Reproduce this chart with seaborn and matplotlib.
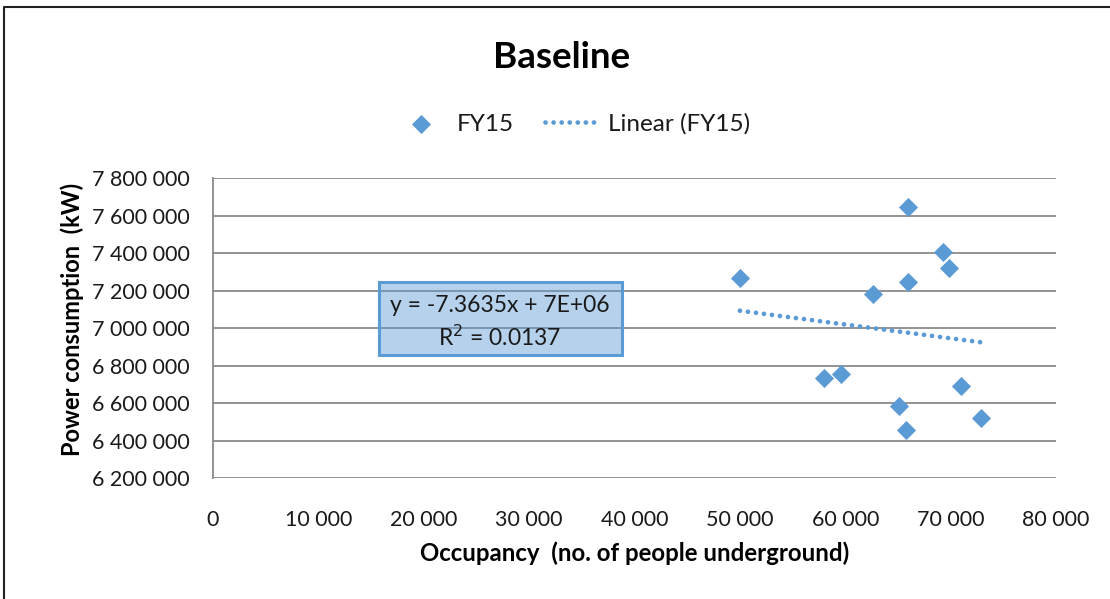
import numpy as np
import pandas as pd
import matplotlib
matplotlib.use("Agg")
import matplotlib.pyplot as plt
import seaborn as sns
from matplotlib.ticker import FuncFormatter, MultipleLocator
from matplotlib.patches import Rectangle
from matplotlib.lines import Line2D

# FY15 monthly observations
occupancy = [50000, 66000, 69300, 69800, 66000, 62600, 58000, 59600, 71000, 65100, 65800, 72900]
power_kw = [7268000, 7644000, 7407000, 7322000, 7247000, 7183000, 6733000, 6755000, 6691000, 6584000, 6456000, 6520000]

# Reported linear trend
slope = -7.3635
r_squared = 0.0137
series_name = "FY15"
trend_name = "Linear (FY15)"
title = "Baseline"
x_label = "Occupancy  (no. of people underground)"
y_label = "Power consumption  (kW)"

df = pd.DataFrame({"occupancy": occupancy, "power": power_kw})
# least-squares line with the given slope passes through the means
intercept = df["power"].mean() - slope * df["occupancy"].mean()
x_fit = np.array([df["occupancy"].min(), df["occupancy"].max()])
trend = pd.DataFrame({"occupancy": x_fit, "power": intercept + slope * x_fit})

sns.set_theme(style="white")
plt.rcParams["font.family"] = ["Lato", "DejaVu Sans"]

blue = "#5b9bd5"
W, H = 1110, 599
fig = plt.figure(figsize=(W / 100, H / 100), dpi=100)
ax = fig.add_axes([213 / W, 1 - 478 / H, (1056 - 213) / W, (478 - 178) / H])

sns.scatterplot(data=df, x="occupancy", y="power", marker="D", s=95, color=blue,
                edgecolor=blue, linewidth=0, ax=ax, label=series_name, zorder=4)
sns.lineplot(data=trend, x="occupancy", y="power", color=blue, lw=3.4,
             linestyle=(0, (0.01, 1.7)), dash_capstyle="round", ax=ax,
             label=trend_name, zorder=3)

ax.set_xlim(0, 80000)
ax.set_ylim(6200000, 7800000)
ax.xaxis.set_major_locator(MultipleLocator(10000))
ax.yaxis.set_major_locator(MultipleLocator(200000))
fmt = FuncFormatter(lambda v, p: f"{v:,.0f}".replace(",", " "))
ax.xaxis.set_major_formatter(fmt)
ax.yaxis.set_major_formatter(fmt)
ax.tick_params(axis="both", length=0, labelsize=15.5, colors="#1a1a1a")
ax.tick_params(axis="y", pad=17)
ax.tick_params(axis="x", pad=23)
ax.grid(axis="y", color="#8a8a8a", lw=1.3)
ax.set_axisbelow(True)
for s in ["top", "right", "bottom"]:
    ax.spines[s].set_visible(False)
ax.spines["left"].set_color("#8a8a8a")
ax.spines["left"].set_linewidth(1.3)
ax.set_xlabel("")
ax.set_ylabel("")

handles, labels = ax.get_legend_handles_labels()
ax.legend_.remove()
fig.legend(handles, labels, loc="center", bbox_to_anchor=(572 / W, 1 - 124 / H),
           ncol=2, frameon=False, fontsize=17.5, handlelength=2.3,
           columnspacing=1.3, handletextpad=0.3, markerscale=1.0,
           labelcolor="#1a1a1a")

fig.text(562 / W, 1 - 57 / H, title, ha="center", va="center",
         fontsize=26.5, fontweight="bold", color="black")
fig.text(635 / W, 1 - 553 / H, x_label, ha="center", va="center",
         fontsize=17.3, fontweight="bold", color="black")
fig.text(72 / W, 1 - 319 / H, y_label, ha="center", va="center", rotation=90,
         fontsize=17, fontweight="bold", color="black")

# trendline equation label
fig.patches.append(Rectangle((379 / W, 1 - 355 / H), (622 - 379) / W, (355 - 282) / H,
                             transform=fig.transFigure, facecolor=blue, alpha=0.45,
                             edgecolor="none", zorder=5))
fig.patches.append(Rectangle((379 / W, 1 - 355 / H), (622 - 379) / W, (355 - 282) / H,
                             transform=fig.transFigure, facecolor="none",
                             edgecolor=blue, lw=2.2, zorder=6))
fig.text(500 / W, 1 - 305 / H, f"y = {slope}x + 7E+06", ha="center", va="center",
         fontsize=16.5, color="#1a1a1a", zorder=7)
fig.text(500 / W, 1 - 337 / H, f"R$^2$ = {r_squared}", ha="center", va="center",
         fontsize=16.5, color="#1a1a1a", zorder=7)

# chart area border
fig.add_artist(Line2D([4 / W, 4 / W, 1], [0, 1 - 7 / H, 1 - 7 / H],
                      transform=fig.transFigure, color="#222222", lw=1.5))

fig.savefig("out.png", dpi=100, facecolor="white")
